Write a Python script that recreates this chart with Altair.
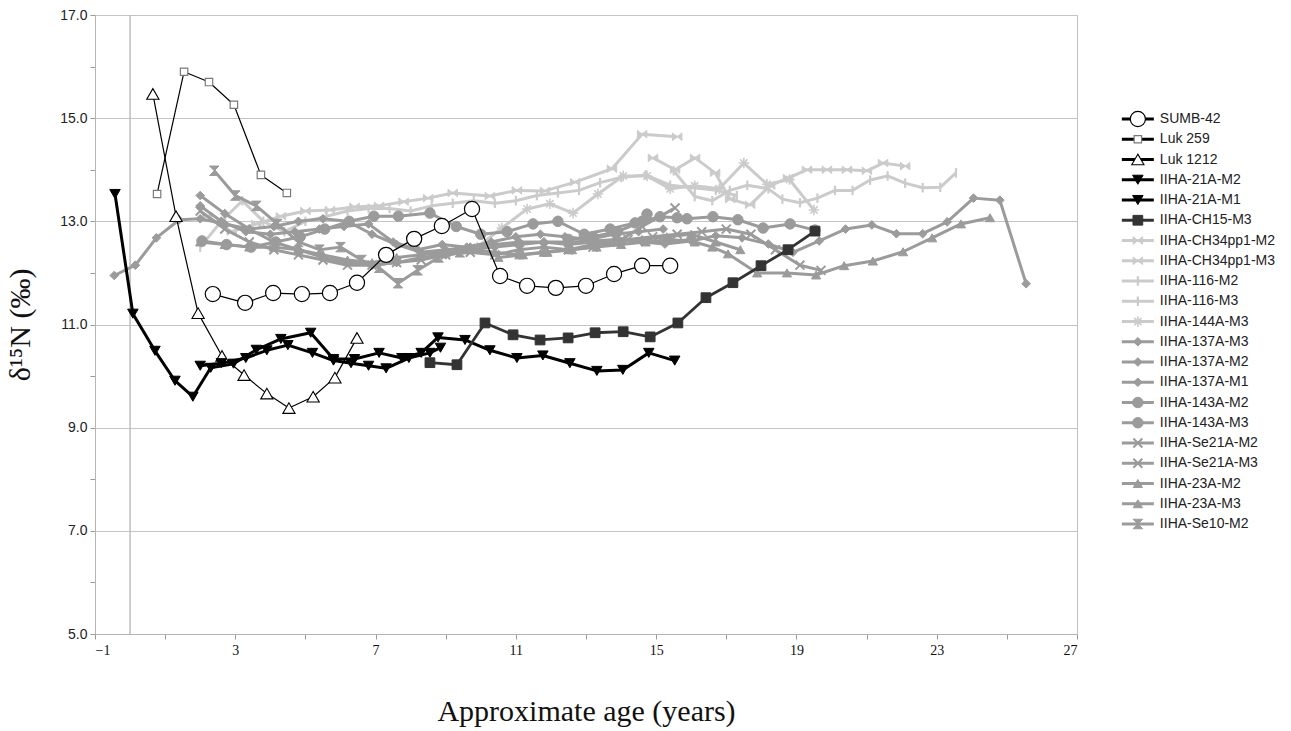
import altair as alt
import pandas as pd

# ---------------------------------------------------------------- data
series_names = [
    "SUMB-42", "Luk 259", "Luk 1212", "IIHA-21A-M2", "IIHA-21A-M1", "IIHA-CH15-M3",
    "IIHA-CH34pp1-M2", "IIHA-CH34pp1-M3", "IIHA-116-M2", "IIHA-116-M3", "IIHA-144A-M3",
    "IIHA-137A-M3", "IIHA-137A-M2", "IIHA-137A-M1", "IIHA-143A-M2", "IIHA-143A-M3",
    "IIHA-Se21A-M2", "IIHA-Se21A-M3", "IIHA-23A-M2", "IIHA-23A-M3", "IIHA-Se10-M2",
]

sumb42_x = [2.36, 3.28, 4.08, 4.90, 5.70, 6.47, 7.30, 8.10, 8.89, 9.75, 10.55, 11.32, 12.14, 13.00, 13.80, 14.60, 15.40]
sumb42_y = [11.59, 11.42, 11.61, 11.59, 11.61, 11.81, 12.35, 12.66, 12.91, 13.24, 11.94, 11.75, 11.71, 11.75, 11.98, 12.14, 12.14]

luk259_x = [0.77, 1.54, 2.25, 2.96, 3.73, 4.47]
luk259_y = [13.53, 15.90, 15.70, 15.26, 13.90, 13.55]

luk1212_x = [0.65, 1.31, 1.94, 2.62, 3.25, 3.90, 4.53, 5.22, 5.84, 6.47]
luk1212_y = [15.47, 13.10, 11.22, 10.39, 10.02, 9.66, 9.38, 9.60, 9.97, 10.74]

a21_m2_x = [2.00, 2.60, 3.30, 3.90, 4.50, 5.20, 5.80, 6.30, 6.80, 7.30, 7.95, 8.55, 8.85]
a21_m2_y = [10.20, 10.25, 10.35, 10.50, 10.60, 10.45, 10.30, 10.25, 10.20, 10.15, 10.35, 10.45, 10.55]

a21_m1_x = [-0.43, 0.08, 0.71, 1.28, 1.79, 2.30, 2.95, 3.60, 4.30, 5.15, 5.80, 6.40, 7.10, 7.75, 8.30,
            8.78, 9.55, 10.26, 11.03, 11.77, 12.54, 13.31, 14.05, 14.79, 15.53]
a21_m1_y = [13.53, 11.21, 10.49, 9.91, 9.60, 10.16, 10.24, 10.51, 10.72, 10.84, 10.33, 10.33, 10.45, 10.35, 10.45,
            10.75, 10.70, 10.50, 10.35, 10.40, 10.25, 10.10, 10.12, 10.45, 10.30]

ch15_x = [8.55, 9.32, 10.12, 10.92, 11.69, 12.49, 13.26, 14.06, 14.83, 15.62, 16.42, 17.19, 17.99, 18.76, 19.53]
ch15_y = [10.26, 10.22, 11.03, 10.80, 10.70, 10.74, 10.84, 10.86, 10.76, 11.03, 11.52, 11.81, 12.14, 12.45, 12.81]

ch34_m2_x = [2.2, 2.9, 3.6, 4.3, 5.0, 5.7, 6.4, 7.1, 7.8, 8.5, 9.2, 10.26, 11.03, 11.83, 12.69, 13.74, 14.6, 15.6]
ch34_m2_y = [13.10, 12.80, 12.95, 13.10, 13.20, 13.22, 13.28, 13.30, 13.38, 13.45, 13.55, 13.49, 13.60, 13.59, 13.76, 14.02, 14.69, 14.64]

ch34_m3_x = [14.91, 15.54, 16.11, 16.68, 17.11, 17.68, 18.25, 18.76, 19.30, 19.87, 20.44, 21.01, 21.47, 22.10]
ch34_m3_y = [14.23, 14.00, 14.23, 13.94, 13.43, 13.32, 13.69, 13.84, 14.00, 14.00, 14.00, 13.98, 14.13, 14.07]

h116_m2_x = [2.0, 2.6, 3.2, 3.8, 4.4, 5.0, 5.6, 6.2, 6.8, 7.4, 8.0, 8.6, 9.2, 9.8, 10.4, 11.0, 11.6, 12.2,
             12.8, 13.4, 14.0, 14.7, 15.4, 16.1, 16.7, 17.3]
h116_m2_y = [12.50, 13.00, 13.40, 13.00, 12.80, 13.00, 13.10, 13.20, 13.25, 13.25, 13.20, 13.30, 13.35, 13.40,
             13.35, 13.40, 13.50, 13.55, 13.60, 13.75, 13.85, 13.90, 13.70, 13.65, 13.60, 13.50]

h116_m3_x = [15.5, 16.1, 16.6, 17.1, 17.6, 18.2, 18.6, 19.1, 19.6, 20.1, 20.6, 21.1, 21.6, 22.1, 22.6, 23.1, 23.55]
h116_m3_y = [13.98, 13.48, 13.40, 13.60, 13.70, 13.63, 13.43, 13.36, 13.45, 13.60, 13.60, 13.80, 13.88, 13.74, 13.65, 13.66, 13.94]

h144_m3_x = [9.9, 10.6, 11.32, 11.97, 12.63, 13.34, 14.06, 14.74, 15.4, 16.1, 16.8, 17.5, 18.16, 18.8, 19.5]
h144_m3_y = [12.50, 12.87, 13.24, 13.34, 13.16, 13.53, 13.88, 13.88, 13.63, 13.69, 13.63, 14.13, 13.72, 13.81, 13.22]

h137_m3_x = [2.0, 2.7, 3.4, 4.1, 4.8, 5.5, 6.2, 6.9, 7.6, 8.3, 9.0, 9.7, 10.4, 11.1, 11.8, 12.5, 13.2, 13.9, 14.6, 15.3, 16.0]
h137_m3_y = [13.50, 13.15, 12.85, 12.60, 12.45, 12.30, 12.20, 12.15, 12.20, 12.30, 12.35, 12.45, 12.50, 12.55,
             12.60, 12.60, 12.62, 12.65, 12.62, 12.60, 12.65]

h137_m2_x = [2.0, 2.6, 3.3, 4.0, 4.7, 5.4, 6.1, 6.8, 7.5, 8.2, 8.9, 9.6, 10.3, 11.0, 11.7, 12.4, 13.1, 13.8, 14.5, 15.2]
h137_m2_y = [13.30, 13.00, 12.80, 12.75, 12.80, 12.85, 12.90, 12.95, 12.60, 12.45, 12.55, 12.50, 12.60, 12.70,
             12.75, 12.70, 12.65, 12.75, 12.80, 12.85]

h137_m1_x = [-0.45, 0.15, 0.75, 1.4, 2.0, 2.7, 3.4, 4.1, 4.8, 5.5, 6.2, 6.9, 7.6, 8.3, 9.0, 9.7, 10.4, 11.1, 11.8,
             12.5, 13.2, 13.9, 14.6, 15.25, 16.0, 16.7, 17.45, 18.2, 18.9, 19.65, 20.4, 21.15, 21.85, 22.6,
             23.3, 24.05, 24.8, 25.55]
h137_m1_y = [11.95, 12.15, 12.68, 13.03, 13.05, 12.95, 12.85, 12.90, 13.00, 13.05, 13.00, 12.75, 12.55, 12.40,
             12.45, 12.50, 12.55, 12.60, 12.60, 12.55, 12.60, 12.65, 12.60, 12.56, 12.62, 12.72, 12.68, 12.56,
             12.40, 12.62, 12.85, 12.93, 12.76, 12.76, 12.99, 13.45, 13.41, 11.79]

h143_m2_x = [2.05, 2.75, 3.45, 4.15, 4.85, 5.55, 6.25, 6.95, 7.65, 8.55, 9.3, 10.0, 10.75, 11.49, 12.2, 12.95, 13.69, 14.4, 14.74]
h143_m2_y = [12.62, 12.55, 12.50, 12.60, 12.70, 12.85, 13.00, 13.10, 13.10, 13.16, 12.90, 12.75, 12.80, 12.95,
             13.00, 12.75, 12.85, 12.97, 13.14]

h143_m3_x = [12.5, 13.2, 13.9, 14.6, 15.11, 15.6, 15.88, 16.62, 17.33, 18.05, 18.82, 19.53]
h143_m3_y = [12.65, 12.70, 12.80, 13.00, 13.09, 13.07, 13.05, 13.09, 13.03, 12.87, 12.95, 12.83]

se21_m2_x = [2.0, 2.7, 3.4, 4.1, 4.8, 5.5, 6.2, 6.9, 7.6, 8.3, 9.0, 9.7, 10.4, 11.1, 11.8, 12.5, 13.2, 13.9, 14.6, 15.54]
se21_m2_y = [13.20, 12.85, 12.60, 12.45, 12.35, 12.25, 12.15, 12.15, 12.20, 12.25, 12.35, 12.40, 12.35, 12.45,
             12.50, 12.45, 12.50, 12.60, 12.90, 13.26]

se21_m3_x = [14.2, 14.9, 15.6, 16.3, 17.0, 17.7, 18.4, 19.1, 19.7]
se21_m3_y = [12.65, 12.70, 12.75, 12.80, 12.85, 12.75, 12.45, 12.15, 12.05]

h23_m2_x = [2.0, 2.7, 3.4, 4.1, 4.8, 5.5, 6.2, 6.9, 7.6, 8.3, 9.0, 9.7, 10.4, 11.1, 11.8, 12.5, 13.2, 13.9,
            14.6, 15.3, 16.0, 16.7, 17.4]
h23_m2_y = [12.60, 12.55, 12.50, 12.50, 12.45, 12.35, 12.25, 12.20, 12.30, 12.35, 12.40, 12.45, 12.40, 12.35,
            12.40, 12.45, 12.55, 12.60, 12.65, 12.70, 12.75, 12.60, 12.45]

h23_m3_x = [10.5, 11.2, 11.9, 12.6, 13.3, 14.0, 14.7, 15.4, 16.1, 16.6, 17.05, 17.88, 18.73, 19.56, 20.36,
            21.18, 22.04, 22.87, 23.69, 24.52]
h23_m3_y = [12.30, 12.35, 12.40, 12.45, 12.50, 12.55, 12.60, 12.65, 12.60, 12.50, 12.37, 12.00, 12.00, 11.96,
            12.14, 12.23, 12.41, 12.68, 12.95, 13.07]

se10_m2_x = [2.4, 3.0, 3.6, 4.2, 4.8, 5.4, 6.0, 6.6, 7.1, 7.64, 8.2, 8.8, 9.4]
se10_m2_y = [13.98, 13.50, 13.30, 12.95, 12.60, 12.45, 12.50, 12.25, 12.10, 11.80, 12.05, 12.30, 12.40]

x_ticks = list(range(-1, 28, 2))
y_ticks = list(range(5, 18))
zero_line = [0]
legend_segment = [0, 1]

# ---------------------------------------------------------------- styling
LIGHT = "#cbcbcb"
MID = "#9b9b9b"
BOWTIE = "M-1,-0.8L0,0L-1,0.8Z M1,-0.8L0,0L1,0.8Z"
BAR = "M0,-1L0,1"
ASTER = "M-1,0L1,0M0,-1L0,1M-0.7,-0.7L0.7,0.7M-0.7,0.7L0.7,-0.7"
XMARK = "M-1,-1L1,1M-1,1L1,-1"
HOURGLASS = "M-1,-1L1,-1L-1,1L1,1Z"

# tier, line colour, line width, marker shape, marker fill, marker stroke, marker size, marker stroke width
styles = {
    "SUMB-42":         (2, "#000000", 1.2, "circle", "#ffffff", "#000000", 230, 1.2),
    "Luk 259":         (2, "#000000", 1.2, "square", "#ffffff", "#7a7a7a", 55, 1.2),
    "Luk 1212":        (2, "#000000", 1.2, "triangle-up", "#ffffff", "#000000", 150, 1.1),
    "IIHA-21A-M2":     (2, "#000000", 3.0, "triangle-down", "#000000", "#000000", 110, 1),
    "IIHA-21A-M1":     (2, "#000000", 3.0, "triangle-down", "#000000", "#000000", 110, 1),
    "IIHA-CH15-M3":    (2, "#333333", 2.8, "square", "#333333", "#333333", 95, 1),
    "IIHA-CH34pp1-M2": (0, LIGHT, 3.0, BOWTIE, LIGHT, LIGHT, 90, 1),
    "IIHA-CH34pp1-M3": (0, LIGHT, 3.0, BOWTIE, LIGHT, LIGHT, 90, 1),
    "IIHA-116-M2":     (0, LIGHT, 3.0, BAR, "transparent", LIGHT, 90, 2.2),
    "IIHA-116-M3":     (0, LIGHT, 3.0, BAR, "transparent", LIGHT, 90, 2.2),
    "IIHA-144A-M3":    (0, LIGHT, 3.0, ASTER, "transparent", LIGHT, 110, 1.6),
    "IIHA-137A-M3":    (1, MID, 3.0, "diamond", MID, MID, 75, 1),
    "IIHA-137A-M2":    (1, MID, 3.0, "diamond", MID, MID, 75, 1),
    "IIHA-137A-M1":    (1, MID, 3.0, "diamond", MID, MID, 75, 1),
    "IIHA-143A-M2":    (1, MID, 3.0, "circle", MID, MID, 110, 1),
    "IIHA-143A-M3":    (1, MID, 3.0, "circle", MID, MID, 110, 1),
    "IIHA-Se21A-M2":   (1, MID, 3.0, XMARK, "transparent", MID, 80, 2),
    "IIHA-Se21A-M3":   (1, MID, 3.0, XMARK, "transparent", MID, 80, 2),
    "IIHA-23A-M2":     (1, MID, 3.0, "triangle-up", MID, MID, 85, 1),
    "IIHA-23A-M3":     (1, MID, 3.0, "triangle-up", MID, MID, 85, 1),
    "IIHA-Se10-M2":    (1, MID, 3.0, HOURGLASS, MID, MID, 90, 1),
}

series_xy = {
    "SUMB-42": (sumb42_x, sumb42_y), "Luk 259": (luk259_x, luk259_y), "Luk 1212": (luk1212_x, luk1212_y),
    "IIHA-21A-M2": (a21_m2_x, a21_m2_y), "IIHA-21A-M1": (a21_m1_x, a21_m1_y), "IIHA-CH15-M3": (ch15_x, ch15_y),
    "IIHA-CH34pp1-M2": (ch34_m2_x, ch34_m2_y), "IIHA-CH34pp1-M3": (ch34_m3_x, ch34_m3_y),
    "IIHA-116-M2": (h116_m2_x, h116_m2_y), "IIHA-116-M3": (h116_m3_x, h116_m3_y),
    "IIHA-144A-M3": (h144_m3_x, h144_m3_y), "IIHA-137A-M3": (h137_m3_x, h137_m3_y),
    "IIHA-137A-M2": (h137_m2_x, h137_m2_y), "IIHA-137A-M1": (h137_m1_x, h137_m1_y),
    "IIHA-143A-M2": (h143_m2_x, h143_m2_y), "IIHA-143A-M3": (h143_m3_x, h143_m3_y),
    "IIHA-Se21A-M2": (se21_m2_x, se21_m2_y), "IIHA-Se21A-M3": (se21_m3_x, se21_m3_y),
    "IIHA-23A-M2": (h23_m2_x, h23_m2_y), "IIHA-23A-M3": (h23_m3_x, h23_m3_y),
    "IIHA-Se10-M2": (se10_m2_x, se10_m2_y),
}

style_cols = ["tier", "lc", "lw", "shape", "mfill", "mstroke", "msize", "msw"]

rows = []
for name in series_names:
    xs, ys = series_xy[name]
    for i, (xv, yv) in enumerate(zip(xs, ys)):
        rows.append(dict(series=name, i=i, x=xv, y=yv, **dict(zip(style_cols, styles[name]))))
df = pd.DataFrame(rows)

# ---------------------------------------------------------------- main plot
x_enc = alt.X(
    "x:Q",
    scale=alt.Scale(domain=[-1, 27], nice=False, zero=False),
    axis=alt.Axis(
        values=x_ticks, format="d",
        labelExpr="(datum.value + 1) % 4 == 0 ? datum.label : ''",
        grid=False, tickSize=5, tickColor="#9a9a9a", domainColor="#b5b5b5",
        labelFont="Liberation Serif", labelFontSize=14, labelColor="#111111", labelPadding=4,
        title="Approximate age (years)", titleFont="Liberation Serif", titleFontSize=30,
        titleFontWeight="normal", titleColor="#111111", titlePadding=39,
    ),
)
y_enc = alt.Y(
    "y:Q",
    scale=alt.Scale(domain=[5, 17], nice=False, zero=False),
    axis=alt.Axis(
        values=y_ticks, format=".1f",
        labelExpr="datum.value % 2 == 1 ? datum.label : ''",
        gridColor="#c4c4c4",
        gridOpacity={"condition": {"test": "datum.value % 2 == 1", "value": 1}, "value": 0},
        tickSize=5, tickColor="#9a9a9a", domainColor="#b5b5b5",
        labelFont="Liberation Sans", labelFontSize=14, labelColor="#222222", labelPadding=3,
        title="δ¹⁵N (‰)", titleFont="Liberation Serif", titleFontSize=30,
        titleFontWeight="normal", titleColor="#111111", titlePadding=24,
    ),
)

zero_rule = alt.Chart(pd.DataFrame({"x": zero_line})).mark_rule(
    color="#bdbdbd", strokeWidth=1.5
).encode(x=x_enc)

layers = [zero_rule]
for tier in [0, 1, 2]:
    base = alt.Chart(df).transform_filter(alt.datum.tier == tier)
    lines = base.mark_line(strokeJoin="round").encode(
        x=x_enc, y=y_enc,
        detail="series:N",
        color=alt.Color("lc:N", scale=None),
        strokeWidth=alt.StrokeWidth("lw:Q", scale=None),
        order="i:Q",
    )
    points = base.mark_point(opacity=1).encode(
        x=x_enc, y=y_enc,
        shape=alt.Shape("shape:N", scale=None),
        fill=alt.Fill("mfill:N", scale=None),
        stroke=alt.Stroke("mstroke:N", scale=None),
        size=alt.Size("msize:Q", scale=None),
        strokeWidth=alt.StrokeWidth("msw:Q", scale=None),
    )
    layers += [lines, points]

main = alt.layer(*layers).properties(
    width=982, height=619, view=alt.ViewBackground(stroke="#c0c0c0", strokeWidth=1)
)

# ---------------------------------------------------------------- legend panel
leg_rows = []
for k, name in enumerate(series_names):
    st = dict(zip(style_cols, styles[name]))
    for s in legend_segment:
        leg_rows.append(dict(series=name, idx=k, seg=s, **st))
leg_df = pd.DataFrame(leg_rows)

leg_xscale = alt.Scale(domain=[-5 / 33, 160 / 33], nice=False, zero=False)
leg_x = alt.X("seg:Q", scale=leg_xscale, axis=None)
leg_y = alt.Y("idx:Q", scale=alt.Scale(domain=[-104 / 20.25, 515 / 20.25], nice=False, zero=False, reverse=True), axis=None)

leg_base = alt.Chart(leg_df)
leg_lines = leg_base.mark_line(strokeWidth=3.2).encode(
    x=leg_x, y=leg_y, detail="series:N", color=alt.Color("lc:N", scale=None)
)
leg_marks = leg_base.transform_filter(alt.datum.seg == 0).transform_calculate(
    mid="(datum.seg + 1) / 2"
).mark_point(opacity=1).encode(
    x=alt.X("mid:Q", scale=leg_xscale, axis=None),
    y=leg_y,
    shape=alt.Shape("shape:N", scale=None),
    fill=alt.Fill("mfill:N", scale=None),
    stroke=alt.Stroke("mstroke:N", scale=None),
    size=alt.Size("msize:Q", scale=None),
    strokeWidth=alt.StrokeWidth("msw:Q", scale=None),
)
leg_text = leg_base.transform_filter(alt.datum.seg == 1).mark_text(
    align="left", baseline="middle", dx=6, font="Liberation Sans", fontSize=14, color="#222222"
).encode(x=leg_x, y=leg_y, text="series:N")

legend = alt.layer(leg_lines, leg_marks, leg_text).properties(
    width=160, height=619, view=alt.ViewBackground(stroke="transparent")
)

chart = alt.hconcat(main, legend, spacing=40, bounds="flush").properties(
    padding={"left": 5, "top": 7, "right": 0, "bottom": 5}
).configure(background="white")

chart.save("out.html", embed_options={"renderer": "svg", "actions": False})
